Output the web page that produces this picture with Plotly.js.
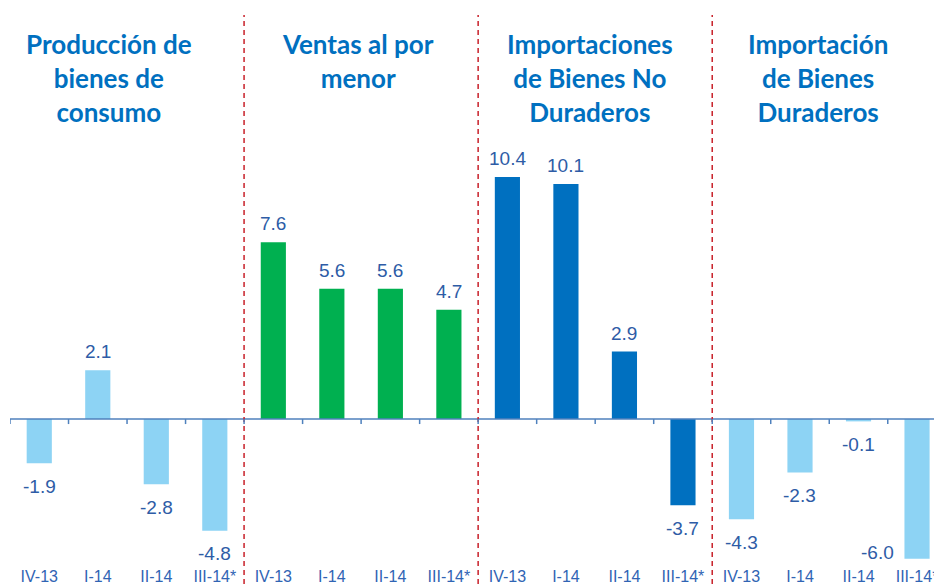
<!DOCTYPE html>
<html>
<head>
<meta charset="utf-8">
<script src="https://cdn.plot.ly/plotly-3.0.1.min.js"></script>
<style>html,body{margin:0;padding:0;background:#fff;}#chart{width:934px;height:587px;}</style>
</head>
<body>
<div id="chart"></div>
<script>
const quarters = ["IV-13", "I-14", "II-14", "III-14*"];
const groupTitles = [
  "Producción de<br>bienes de<br>consumo",
  "Ventas al por<br>menor",
  "Importaciones<br>de Bienes No<br>Duraderos",
  "Importación<br>de Bienes<br>Duraderos"
];
const prodBienesConsumo = [-1.9, 2.1, -2.8, -4.8];
const ventasPorMenor = [7.6, 5.6, 5.6, 4.7];
const impBienesNoDuraderos = [10.4, 10.1, 2.9, -3.7];
const impBienesDuraderos = [-4.3, -2.3, -0.1, -6.0];

const series = [prodBienesConsumo, ventasPorMenor, impBienesNoDuraderos, impBienesDuraderos];
const colors = ["#8DD3F4", "#00B050", "#0070C0", "#8DD3F4"];
const titleOffsets = [-0.31, -0.05, -0.09, -0.19];

const yMin = -6.27, yMax = 17.79;
const plotTop = 5, plotBottom = 565;
const pxPerUnit = (plotBottom - plotTop) / (yMax - yMin);

const nQ = quarters.length;
const total = nQ * series.length;
const traces = [];
const annotations = [];
const shapes = [];
const tickvals = [], ticktext = [];

series.forEach((vals, g) => {
  const xs = vals.map((_, i) => g * nQ + i);
  traces.push({
    type: "bar", x: xs, y: vals,
    marker: {color: colors[g], line: {width: 0}},
    hoverinfo: "skip", showlegend: false
  });
  xs.forEach((x, i) => {
    tickvals.push(x); ticktext.push(quarters[i]);
    const v = vals[i];
    const ann = {
      x: x, y: v, xref: "x", yref: "y", text: v.toFixed(1), showarrow: false,
      font: {family: "Liberation Sans, Arial, sans-serif", size: 19, color: "#2E5CA6"},
      xanchor: "center", yanchor: "middle"
    };
    if (v >= 0) {
      ann.yshift = 18.5;
    } else if (-v * pxPerUnit + 23 > -yMin * pxPerUnit - 8) {
      ann.xshift = -40; ann.yshift = 6;
    } else {
      ann.yshift = -23;
    }
    annotations.push(ann);
  });
  annotations.push({
    x: g * nQ + (nQ - 1) / 2 + titleOffsets[g], y: 1, xref: "x", yref: "paper",
    xanchor: "center", yanchor: "top", yshift: -21, align: "center",
    text: "<b>" + groupTitles[g] + "</b>", showarrow: false,
    font: {family: "Lato, sans-serif", size: 26, color: "#0070C0"}
  });
  if (g > 0) {
    shapes.push({
      type: "line", xref: "x", yref: "paper", x0: g * nQ - 0.5, x1: g * nQ - 0.5,
      y0: -0.05, y1: 0.982, layer: "above",
      line: {color: "#C8202A", width: 1.5, dash: "5px,4px"}
    });
  }
});

shapes.unshift({
  type: "line", xref: "paper", yref: "y", x0: 0, x1: 1, y0: 0, y1: 0,
  line: {color: "#4F81BD", width: 1.5}
});
for (let b = 0; b <= total; b++) {
  shapes.push({
    type: "line", xref: "x", yref: "y", ysizemode: "pixel", yanchor: 0,
    x0: b - 0.5, x1: b - 0.5, y0: 0, y1: -5,
    line: {color: "#4F81BD", width: 1.5}
  });
}

const layout = {
  width: 934, height: 587,
  margin: {l: 10, r: 0, t: plotTop, b: 587 - plotBottom},
  paper_bgcolor: "#ffffff", plot_bgcolor: "#ffffff",
  barmode: "overlay", bargap: 0.57,
  xaxis: {
    type: "linear", range: [-0.5, 15.29], tickvals: tickvals, ticktext: ticktext,
    showgrid: false, zeroline: false, showline: false, ticks: "",
    ticklabeloverflow: "allow",
    tickfont: {family: "Liberation Sans, Arial, sans-serif", size: 16, color: "#3064B4"},
    fixedrange: true
  },
  yaxis: {range: [yMin, yMax], visible: false, showgrid: false, zeroline: false, fixedrange: true},
  shapes: shapes,
  annotations: annotations
};

Plotly.newPlot("chart", traces, layout, {displayModeBar: false, staticPlot: true});
</script>
</body>
</html>
